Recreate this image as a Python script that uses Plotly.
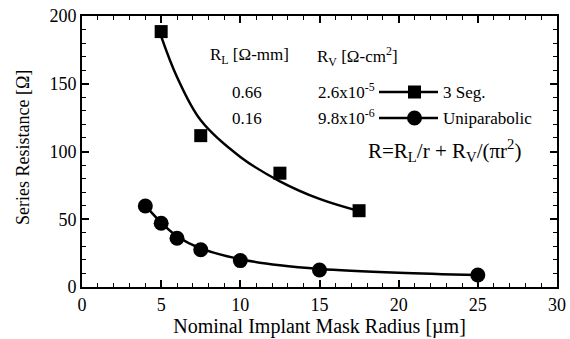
import plotly.graph_objects as go

# measured data
seg3_x = [5, 7.5, 12.5, 17.5]
seg3_y = [188.5, 111.7, 84, 56.3]
uni_x = [4, 5, 6, 7.5, 10, 15, 25]
uni_y = [59.8, 47, 36, 27.5, 19.5, 12.5, 8.9]

# fitted curves
fit3_x = [5, 6, 7.5, 10, 12.5, 15, 17.5]
fit3_y = [185, 155, 123, 96, 78, 65, 56]
fitu_x = [4, 5, 6, 7.5, 10, 12.5, 15, 20, 25]
fitu_y = [60, 47.5, 37.5, 28.5, 20.5, 16, 13.3, 10.5, 8.8]

series_names = ["3 Seg.", "Uniparabolic"]

FONT = "Liberation Serif, DejaVu Serif, serif"

fig = go.Figure()
fig.add_trace(go.Scatter(x=fit3_x, y=fit3_y, mode="lines", line=dict(color="black", width=2.5, shape="spline"), showlegend=False))
fig.add_trace(go.Scatter(x=fitu_x, y=fitu_y, mode="lines", line=dict(color="black", width=2.5, shape="spline"), showlegend=False))
fig.add_trace(go.Scatter(x=seg3_x, y=seg3_y, mode="markers", name=series_names[0],
                         marker=dict(symbol="square", size=13, color="black"), showlegend=False))
fig.add_trace(go.Scatter(x=uni_x, y=uni_y, mode="markers", name=series_names[1],
                         marker=dict(symbol="circle", size=15, color="black"), showlegend=False))

axis_common = dict(showline=True, linecolor="black", linewidth=2, mirror="allticks",
                   ticks="inside", ticklen=7, tickwidth=1.5, tickcolor="black",
                   showgrid=False, zeroline=False, automargin=False,
                   tickfont=dict(family=FONT, size=18, color="black"))
fig.update_xaxes(range=[0, 30], dtick=5, tick0=0,
                 minor=dict(dtick=1, ticks="inside", ticklen=4, tickwidth=1, tickcolor="black"),
                 title=dict(text="Nominal Implant Mask Radius [µm]", font=dict(family=FONT, size=20, color="black"), standoff=2),
                 **axis_common)
fig.update_yaxes(range=[0, 200], dtick=50, tick0=0,
                 minor=dict(dtick=10, ticks="inside", ticklen=4, tickwidth=1, tickcolor="black"),
                 **axis_common)

L, T, W, H = 82, 16, 475, 271
def px(x):
    return (x - L) / W
def py(y):
    return (T + H - y) / H

# y-axis title placed explicitly
fig.add_annotation(x=px(23), y=py(148), xref="paper", yref="paper", text="Series Resistance [Ω]",
                   textangle=-90, showarrow=False, xanchor="center", yanchor="middle",
                   font=dict(family=FONT, size=18, color="black"))

ann_font = dict(family=FONT, size=17, color="black")
anns = [
    dict(x=208, y=56, text="R<sub>L</sub> [Ω-mm]", xanchor="left"),
    dict(x=315, y=56, text="R<sub>V</sub> [Ω-cm<sup>2</sup>]", xanchor="left"),
    dict(x=247, y=92, text="0.66", xanchor="center"),
    dict(x=247, y=118, text="0.16", xanchor="center"),
    dict(x=316, y=91, text="2.6x10<sup>-5</sup>", xanchor="left"),
    dict(x=316, y=117, text="9.8x10<sup>-6</sup>", xanchor="left"),
    dict(x=441, y=92, text=series_names[0], xanchor="left"),
    dict(x=441, y=118, text=series_names[1], xanchor="left"),
]
for a in anns:
    fig.add_annotation(x=px(a["x"]), y=py(a["y"]), xref="paper", yref="paper",
                       text=a["text"], showarrow=False, xanchor=a["xanchor"], yanchor="middle", font=ann_font)
fig.add_annotation(x=px(366), y=py(150), xref="paper", yref="paper",
                   text="R=R<sub>L</sub>/r + R<sub>V</sub>/(πr<sup>2</sup>)", showarrow=False,
                   xanchor="left", yanchor="middle", font=dict(family=FONT, size=21, color="black"))

# legend glyphs
shapes = []
for yy in (92, 118):
    shapes.append(dict(type="line", xref="paper", yref="paper", x0=px(379), x1=px(438), y0=py(yy), y1=py(yy),
                       line=dict(color="black", width=2.5)))
shapes.append(dict(type="rect", xref="paper", yref="paper", x0=px(408), x1=px(421), y0=py(98.5), y1=py(85.5),
                   fillcolor="black", line=dict(color="black", width=0)))
shapes.append(dict(type="circle", xref="paper", yref="paper", x0=px(407), x1=px(422), y0=py(125.5), y1=py(110.5),
                   fillcolor="black", line=dict(color="black", width=0)))

fig.update_layout(
    width=570, height=339,
    margin=dict(l=L, r=570 - L - W, t=T, b=339 - T - H),
    plot_bgcolor="white", paper_bgcolor="white",
    font=dict(family=FONT, color="black"),
    showlegend=False,
    shapes=shapes,
)
fig.write_html("out.html", config={"displayModeBar": False},
               post_script="document.body.style.margin='0';document.body.style.padding='0';")
